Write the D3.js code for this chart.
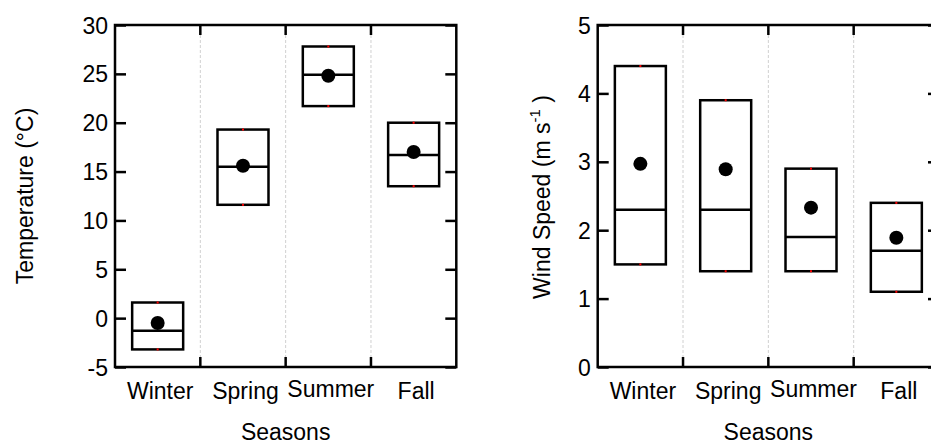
<!DOCTYPE html>
<html>
<head>
<meta charset="utf-8">
<script src="https://cdn.jsdelivr.net/npm/d3@7"></script>
<style>
  body { margin: 0; background: #fff; }
  svg text { font-family: "Liberation Sans", Arial, sans-serif; fill: #000; }
</style>
</head>
<body>
<div id="chart"></div>
<script>
// Data
const seasons = ['Winter', 'Spring', 'Summer', 'Fall'];

const tempLow    = [-3.2, 11.6, 21.7, 13.5];
const tempHigh   = [1.6, 19.3, 27.8, 20.0];
const tempMedian = [-1.3, 15.5, 24.9, 16.7];
const tempMean   = [-0.5, 15.6, 24.8, 17.0];
const tempTicks  = [-5, 0, 5, 10, 15, 20, 25, 30];

const windLow    = [1.5, 1.4, 1.4, 1.1];
const windHigh   = [4.4, 3.9, 2.9, 2.4];
const windMedian = [2.3, 2.3, 1.9, 1.7];
const windMean   = [2.97, 2.89, 2.33, 1.89];
const windTicks  = [0, 1, 2, 3, 4, 5];

let width = 931, height = 444;
let fs = '23px';

let svg = d3.select('#chart')
  .append('svg')
  .attr('width', width)
  .attr('height', height);

function drawPanel(opts) {
  let left = opts.left, right = opts.left + 341.3;
  let top = 25, bottom = 367;

  let rows = seasons.map((s, i) => ({
    season: s, low: opts.low[i], high: opts.high[i],
    median: opts.median[i], mean: opts.mean[i]
  }));

  let xScale = d3.scaleBand()
    .domain(seasons)
    .range([left, right])
    .padding(0);

  let yScale = d3.scaleLinear()
    .domain(opts.domain)
    .range([bottom, top]);

  let g = svg.append('g');

  // dashed separators between seasons
  g.selectAll('.sep')
    .data(seasons.slice(1))
    .enter()
    .append('line')
    .attr('x1', d => xScale(d)).attr('x2', d => xScale(d))
    .attr('y1', top).attr('y2', bottom)
    .attr('stroke', '#d0d0d0')
    .attr('stroke-width', 1)
    .attr('stroke-dasharray', '3,2');

  // y axis, ticks pointing inwards
  let yAxis = g.append('g')
    .attr('transform', `translate(${left},0)`)
    .call(d3.axisLeft(yScale).tickValues(opts.ticks).tickFormat(d => String(d))
      .tickSizeInner(-11).tickSizeOuter(0).tickPadding(7));
  yAxis.select('.domain').remove();
  yAxis.selectAll('line').attr('stroke', '#000').attr('stroke-width', 2.5);
  yAxis.selectAll('text').style('font-size', fs).attr('dy', '0.35em');

  let yAxisR = g.append('g')
    .attr('transform', `translate(${right},0)`)
    .call(d3.axisRight(yScale).tickValues(opts.ticks).tickSizeInner(-11).tickSizeOuter(0).tickFormat(''));
  yAxisR.select('.domain').remove();
  yAxisR.selectAll('line').attr('stroke', '#000').attr('stroke-width', 2.5);

  // top and bottom ticks at season boundaries
  ['top', 'bottom'].forEach(side => {
    g.selectAll('.xt-' + side)
      .data(seasons.slice(1))
      .enter()
      .append('line')
      .attr('x1', d => xScale(d)).attr('x2', d => xScale(d))
      .attr('y1', side == 'top' ? top : bottom)
      .attr('y2', side == 'top' ? top + 10 : bottom - 10)
      .attr('stroke', '#000')
      .attr('stroke-width', 2.5);
  });

  // frame
  g.append('rect')
    .attr('x', left).attr('y', top)
    .attr('width', right - left).attr('height', bottom - top)
    .attr('fill', 'none')
    .attr('stroke', '#000')
    .attr('stroke-width', 2.5);

  // season labels
  g.selectAll('.xl')
    .data(seasons)
    .enter()
    .append('text')
    .attr('x', d => xScale(d) + xScale.bandwidth() / 2 + 2.5)
    .attr('y', d => d == 'Summer' ? bottom + 30 : bottom + 31.5)
    .attr('text-anchor', 'middle')
    .style('font-size', fs)
    .text(d => d);

  g.append('text')
    .attr('x', (left + right) / 2)
    .attr('y', 440)
    .attr('text-anchor', 'middle')
    .style('font-size', fs)
    .text('Seasons');

  // boxes
  let bw = 51;
  let cx = d => xScale(d.season) + xScale.bandwidth() / 2;

  g.selectAll('.box')
    .data(rows)
    .enter()
    .append('rect')
    .attr('x', d => cx(d) - bw / 2)
    .attr('y', d => yScale(d.high))
    .attr('width', bw)
    .attr('height', d => yScale(d.low) - yScale(d.high))
    .attr('fill', 'none')
    .attr('stroke', '#000')
    .attr('stroke-width', 2.5);

  g.selectAll('.med')
    .data(rows)
    .enter()
    .append('line')
    .attr('x1', d => cx(d) - bw / 2).attr('x2', d => cx(d) + bw / 2)
    .attr('y1', d => yScale(d.median)).attr('y2', d => yScale(d.median))
    .attr('stroke', '#000')
    .attr('stroke-width', 2.5);

  // little red whisker caps
  ['low', 'high'].forEach(k => {
    g.selectAll('.cap-' + k)
      .data(rows)
      .enter()
      .append('rect')
      .attr('x', d => cx(d) - 1)
      .attr('y', d => yScale(d[k]) - 1)
      .attr('width', 2).attr('height', 2)
      .attr('fill', '#ff0000');
  });

  g.selectAll('.mean')
    .data(rows)
    .enter()
    .append('circle')
    .attr('cx', d => cx(d))
    .attr('cy', d => yScale(d.mean))
    .attr('r', 7)
    .attr('fill', '#000');

  return g;
}

drawPanel({left: 115, domain: [-5, 30], ticks: tempTicks,
  low: tempLow, high: tempHigh, median: tempMedian, mean: tempMean});

drawPanel({left: 597.7, domain: [0, 5], ticks: windTicks,
  low: windLow, high: windHigh, median: windMedian, mean: windMean});

// y labels
svg.append('text')
  .attr('transform', 'translate(33,196) rotate(-90)')
  .attr('text-anchor', 'middle')
  .style('font-size', fs)
  .text('Temperature (°C)');

let wl = svg.append('text')
  .attr('transform', 'translate(550,197) rotate(-90)')
  .attr('text-anchor', 'middle')
  .style('font-size', fs);
wl.append('tspan').text('Wind Speed (m s');
wl.append('tspan').attr('dy', -10).style('font-size', '15px').text('-1');
wl.append('tspan').attr('dy', 10).text(' )');
</script>
</body>
</html>
